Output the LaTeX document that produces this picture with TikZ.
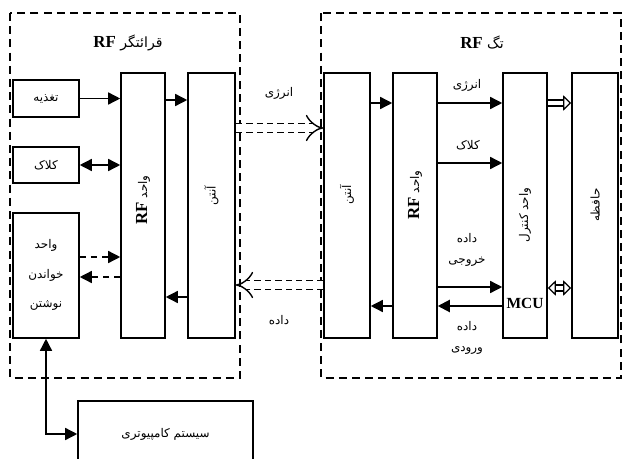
\documentclass[tikz,border=0pt]{standalone}
\usepackage{fontspec}
\setmainfont{Liberation Serif}
\newfontfamily\farsi[Script=Arabic]{DejaVu Sans}
\TeXXeTstate=1
\usetikzlibrary{arrows.meta}
\newcommand{\fa}[1]{{\farsi\beginR #1\endR}}
\newcommand{\rfmark}{\beginL{\rmfamily\bfseries\fontsize{12}{14}\selectfont RF}\endL}

\begin{document}
\begin{tikzpicture}[x=0.25mm, y=-0.25mm,
  blk/.style={draw, line width=1.1pt, inner sep=0pt, font=\fontsize{8.5}{10}\selectfont},
  tall/.style={blk, minimum height=66.25mm},
  frame/.style={draw, line width=1.3pt, dash pattern=on 2mm off 1.3mm},
  arr/.style={line width=1pt, -{Triangle[length=3mm, width=3mm]}},
  darr/.style={arr, dash pattern=on 1.6mm off 1.2mm},
  biarr/.style={line width=1pt, {Triangle[length=3mm, width=3mm]}-{Triangle[length=3mm, width=3mm]}},
  hollow/.style={double, line width=0.9pt, double distance=1.2mm, -{Triangle[open, length=2mm, width=3.8mm]}},
  wave/.style={double, line width=1pt, double distance=2mm, dash pattern=on 1.6mm off 1mm, -{Implies}},
  lbl/.style={font=\fontsize{8.5}{10}\selectfont, inner sep=1pt},
  vlbl/.style={lbl, rotate=90},
  ttl/.style={font=\fontsize{10}{12}\selectfont}]
\useasboundingbox (0,0) rectangle (622,459);

% frames
\draw[frame] (10,13) rectangle (240,378);
\draw[frame] (321,13) rectangle (621,378);
\node[ttl] (readerttl) at (128,43) {\fa{قرائتگر \rfmark}};
\node[ttl] (tagttl) at (482,43) {\fa{تگ \rfmark}};

% reader side
\node[blk, minimum width=16.5mm, minimum height=9.25mm] (feed) at (46,98.5) {\fa{تغذیه}};
\node[blk, minimum width=16.5mm, minimum height=9mm] (clock) at (46,165) {\fa{کلاک}};
\node[blk, minimum width=16.5mm, minimum height=31.25mm] (rw) at (46,275.5) {};
\node[tall, minimum width=11mm] (rfL) at (143,205.5) {};
\node[tall, minimum width=11.75mm] (antL) at (211.5,205.5) {};
\node[lbl, align=center, font=\fontsize{8.5}{21}\selectfont] (rwtxt) at (46,275) {\fa{واحد}\\ \fa{خواندن}\\ \fa{نوشتن}};
\node[vlbl] (rfLtxt) at (143,200) {\fa{واحد \rfmark}};
\node[vlbl] (antLtxt) at (211.5,196) {\fa{آنتن}};

\draw[arr] (feed) -- (feed -| rfL.west);
\draw[biarr] (clock) -- (clock -| rfL.west);
\draw[darr] (rw.east |- 0,257) -- (rfL.west |- 0,257);
\draw[darr] (rfL.west |- 0,277) -- (rw.east |- 0,277);
\draw[arr] (rfL.east |- 0,100) -- (antL.west |- 0,100);
\draw[arr] (antL.west |- 0,297) -- (rfL.east |- 0,297);

% computer
\node[blk, minimum width=43.75mm, minimum height=16.5mm] (comp) at (165.5,434) {\fa{سیستم کامپیوتری}};
\draw[biarr] (rw.south) -- (rw.south |- comp.west) -- (comp.west);

% tag side
\node[tall, minimum width=11.5mm] (antR) at (347,205.5) {};
\node[tall, minimum width=11mm] (rfR) at (415,205.5) {};
\node[tall, minimum width=11mm] (mcu) at (525,205.5) {};
\node[tall, minimum width=11.5mm] (mem) at (595,205.5) {};
\node[vlbl] (antRtxt) at (347,195) {\fa{آنتن}};
\node[vlbl] (rfRtxt) at (415,195) {\fa{واحد \rfmark}};
\node[vlbl] (mcutxt) at (525,215) {\fa{واحد کنترل}};
\node[font=\bfseries\fontsize{11}{13}\selectfont, inner sep=0pt] (mcuname) at (525,303) {MCU};
\node[vlbl] (memtxt) at (595,205) {\fa{حافظه}};

% air link
\draw[wave] (antL.east |- 0,128) -- (antR.west |- 0,128);
\draw[wave] (antR.west |- 0,285) -- (antL.east |- 0,285);
\node[lbl] (energyair) at (279,93) {\fa{انرژی}};
\node[lbl] (dataair) at (279,320) {\fa{داده}};

\draw[arr] (antR.east |- 0,103) -- (rfR.west |- 0,103);
\draw[arr] (rfR.east |- 0,103) -- (mcu.west |- 0,103);
\draw[arr] (rfR.east |- 0,163) -- (mcu.west |- 0,163);
\draw[arr] (rfR.east |- 0,287) -- (mcu.west |- 0,287);
\draw[arr, line width=1.5pt] (mcu.west |- 0,306) -- (rfR.east |- 0,306);
\draw[arr] (rfR.west |- 0,306) -- (antR.east |- 0,306);
\draw[hollow] (mcu.east |- 0,103) -- (mem.west |- 0,103);
\draw[hollow, {Triangle[open, length=2mm, width=3.8mm]}-{Triangle[open, length=2mm, width=3.8mm]}] (mcu.east |- 0,288) -- (mem.west |- 0,288);
\node[lbl] (energytag) at (467,85) {\fa{انرژی}};
\node[lbl] (clocktag) at (468,145) {\fa{کلاک}};
\node[lbl, align=center, font=\fontsize{8.5}{15.5}\selectfont] (dataout) at (467,250) {\fa{داده}\\ \fa{خروجی}};
\node[lbl, align=center, font=\fontsize{8.5}{15.5}\selectfont] (datain) at (467,338) {\fa{داده}\\ \fa{ورودی}};
\end{tikzpicture}
\end{document}
